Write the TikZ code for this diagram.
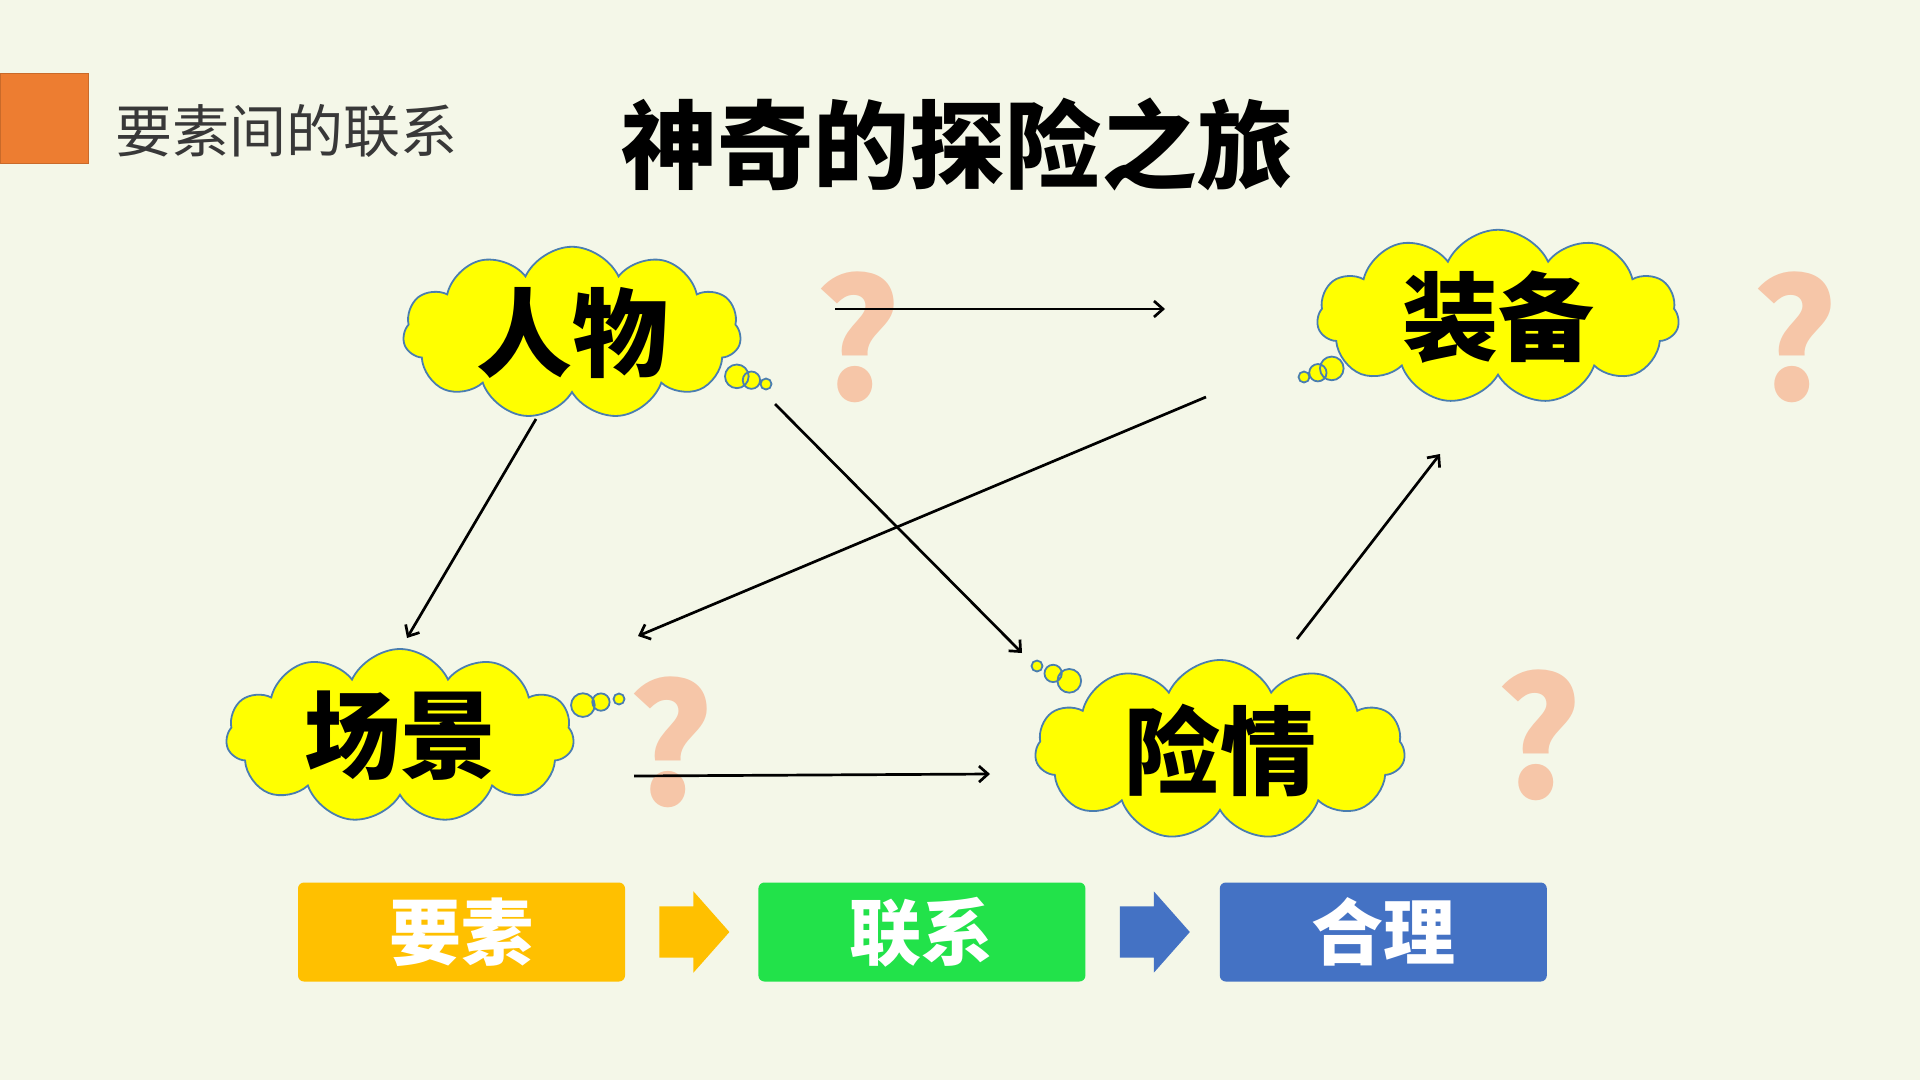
\documentclass[tikz,border=0pt]{standalone}
\usepackage{fontspec}
\setmainfont{Noto Sans CJK SC}
\usetikzlibrary{shapes.callouts,shapes.arrows,positioning,arrows.meta}
\definecolor{BgClr}{HTML}{F4F7E8}
\definecolor{MarkClr}{HTML}{ED7D31}
\definecolor{CloudClr}{HTML}{FFFF00}
\definecolor{CloudLine}{HTML}{4A7EB0}
\definecolor{AskClr}{HTML}{F6C6A8}
\definecolor{StepAClr}{HTML}{FFC000}
\definecolor{StepBClr}{HTML}{22E24A}
\definecolor{StepCClr}{HTML}{4472C4}

\begin{document}
\begin{tikzpicture}[x=1pt,y=-1pt,
  idea/.style={cloud callout,cloud puffs=11,cloud puff arc=130,cloud ignores aspect,
    fill=CloudClr,draw=CloudLine,line width=1.8pt,inner sep=0pt,
    callout pointer segments=3,callout pointer start size=30pt and 30pt,
    callout pointer end size=11pt and 11pt,
    font=\fontsize{96}{100}\selectfont\bfseries},
  ask/.style={text=AskClr,inner sep=0pt,font=\fontsize{165}{170}\selectfont\bfseries},
  link/.style={-{Straight Barb[length=9pt,width=16pt]},line width=2.7pt},
  stepbox/.style={rounded corners=6pt,minimum width=327pt,minimum height=99pt,
    text=white,font=\fontsize{72}{76}\selectfont\bfseries},
  go/.style={single arrow,single arrow head extend=15pt,single arrow tip angle=97,
    minimum height=70pt,inner xsep=0pt,inner ysep=25.5pt}]

\fill[BgClr] (0,0) rectangle (1920,1080);
\useasboundingbox (0,0) rectangle (1920,1080);

% heading
\node (mark) [fill=MarkClr,draw=MarkClr!85!black,line width=1pt,
  minimum width=88pt,minimum height=90pt,anchor=north west] at (0,73) {};
\node (sub) [text=black!78,font=\fontsize{57}{60}\selectfont] at (286,131) {要素间的联系};
\node (title) [font=\fontsize{96}{100}\selectfont\bfseries] at (957,144) {神奇的探险之旅};

% clouds
\coordinate (personTip) at (766,384);
\coordinate (gearTip) at (1304,377);
\coordinate (sceneTip) at (619,699);
\coordinate (dangerTip) at (1037,666);

\node (person) [idea,minimum width=338pt,minimum height=168pt,
  callout absolute pointer={(personTip)}] at (572,333) {人物};
\node (gear) [idea,minimum width=362pt,minimum height=148pt,
  callout absolute pointer={(gearTip)}] at (1498,317) {装备};
\node (scene) [idea,minimum width=348pt,minimum height=174pt,
  callout absolute pointer={(sceneTip)}] at (400,736) {场景};
\node (danger) [idea,minimum width=370pt,minimum height=180pt,
  callout absolute pointer={(dangerTip)}] at (1220,750) {险情};

% question marks
\node (ask1) [ask] at (858,337) {?};
\node (ask2) [ask] at (1795,337) {?};
\node (ask3) [ask] at (671,742) {?};
\node (ask4) [ask] at (1539,735) {?};

% links
\coordinate (pg1) at (835,309);   \coordinate (pg2) at (1165,309);
\coordinate (ps1) at (536,419);   \coordinate (ps2) at (407,638);
\coordinate (pd1) at (775,404);   \coordinate (pd2) at (1022,653);
\coordinate (gs1) at (1206,397);  \coordinate (gs2) at (638,636);
\coordinate (sd1) at (634,776);   \coordinate (sd2) at (990,774);
\coordinate (dg1) at (1297,639);  \coordinate (dg2) at (1440,454);

\draw[link] (pg1) -- (pg2);
\draw[link] (ps1) -- (ps2);
\draw[link] (pd1) -- (pd2);
\draw[link] (gs1) -- (gs2);
\draw[link] (sd1) -- (sd2);
\draw[link] (dg1) -- (dg2);

% steps
\node (elem) [stepbox,fill=StepAClr] at (461.5,932) {要素};
\node (go1) [go,fill=StepAClr,right=34pt of elem] {};
\node (tie) [stepbox,fill=StepBClr,right=133pt of elem] {联系};
\node (go2) [go,fill=StepCClr,right=34pt of tie] {};
\node (fit) [stepbox,fill=StepCClr,right=134pt of tie] {合理};

\end{tikzpicture}
\end{document}
